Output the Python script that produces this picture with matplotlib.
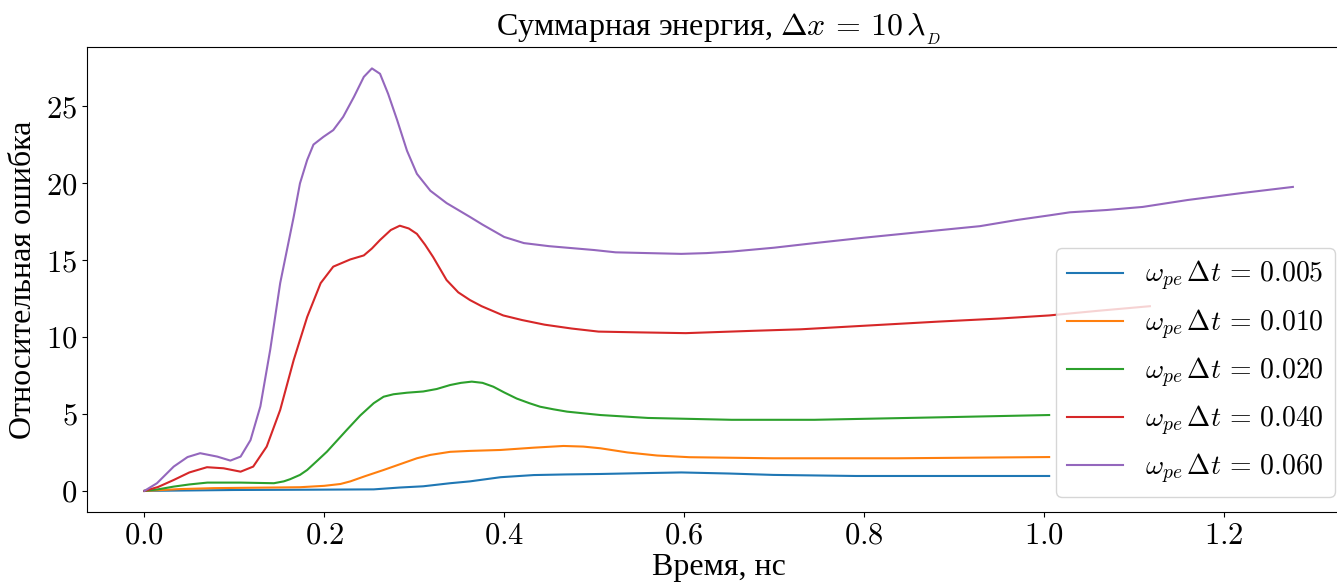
import matplotlib
matplotlib.use("Agg")
import matplotlib.pyplot as plt
from matplotlib.ticker import FuncFormatter

plt.rcParams['mathtext.fontset'] = 'cm'
plt.rcParams['font.family'] = ['Liberation Serif', 'DejaVu Serif']

labels = ["0.005", "0.010", "0.020", "0.040", "0.060"]

t_005 = [0, 0.1, 0.188, 0.255, 0.284, 0.31, 0.34, 0.362, 0.396, 0.433, 0.468, 0.507, 0.55, 0.597, 0.65, 0.699, 0.791, 1.006]
v_005 = [0, 0.06, 0.08, 0.1, 0.22, 0.3, 0.5, 0.62, 0.89, 1.03, 1.07, 1.1, 1.15, 1.2, 1.13, 1.04, 0.97, 0.97]

t_010 = [0, 0.04, 0.077, 0.173, 0.2, 0.218, 0.229, 0.245, 0.266, 0.285, 0.303, 0.318, 0.34, 0.362, 0.396, 0.433, 0.466, 0.488, 0.507, 0.537, 0.57, 0.606, 0.699, 0.837, 1.006]
v_010 = [0, 0.12, 0.18, 0.24, 0.33, 0.45, 0.62, 0.95, 1.36, 1.75, 2.12, 2.34, 2.54, 2.6, 2.66, 2.81, 2.92, 2.88, 2.77, 2.5, 2.3, 2.19, 2.12, 2.12, 2.2]

t_020 = [0, 0.015, 0.0326, 0.05, 0.07, 0.107, 0.144, 0.155, 0.162, 0.173, 0.181, 0.192, 0.203, 0.21, 0.225, 0.24, 0.255, 0.266, 0.277, 0.292, 0.31, 0.325, 0.34, 0.352, 0.364, 0.376, 0.388, 0.40, 0.414, 0.428, 0.44, 0.455, 0.47, 0.507, 0.56, 0.653, 0.745, 0.883, 1.006]
v_020 = [0, 0.1, 0.28, 0.42, 0.54, 0.54, 0.5, 0.62, 0.76, 1.04, 1.36, 1.95, 2.55, 3.0, 3.96, 4.9, 5.7, 6.12, 6.28, 6.38, 6.46, 6.62, 6.88, 7.02, 7.1, 7.02, 6.77, 6.4, 6.0, 5.7, 5.47, 5.3, 5.15, 4.93, 4.74, 4.62, 4.62, 4.78, 4.93]

t_040 = [0, 0.015, 0.0326, 0.05, 0.0696, 0.088, 0.107, 0.121, 0.136, 0.151, 0.166, 0.181, 0.196, 0.21, 0.229, 0.244, 0.253, 0.262, 0.274, 0.284, 0.294, 0.303, 0.312, 0.321, 0.336, 0.349, 0.362, 0.375, 0.399, 0.42, 0.445, 0.475, 0.505, 0.55, 0.602, 0.676, 0.73, 0.791, 0.883, 0.951, 1.006, 1.06, 1.118]
v_040 = [0, 0.25, 0.71, 1.2, 1.54, 1.47, 1.25, 1.58, 2.88, 5.26, 8.5, 11.3, 13.5, 14.57, 15.04, 15.3, 15.75, 16.3, 16.95, 17.23, 17.05, 16.7, 16.0, 15.2, 13.7, 12.9, 12.4, 12.0, 11.4, 11.1, 10.8, 10.55, 10.35, 10.3, 10.25, 10.4, 10.5, 10.7, 11.0, 11.2, 11.4, 11.7, 12.0]

t_060 = [0, 0.014, 0.0326, 0.048, 0.062, 0.081, 0.0956, 0.107, 0.118, 0.129, 0.14, 0.151, 0.1585, 0.166, 0.173, 0.181, 0.188, 0.199, 0.21, 0.221, 0.233, 0.244, 0.253, 0.262, 0.271, 0.281, 0.292, 0.303, 0.318, 0.336, 0.362, 0.376, 0.40, 0.422, 0.45, 0.47, 0.50, 0.524, 0.56, 0.597, 0.625, 0.653, 0.70, 0.745, 0.80, 0.86, 0.929, 0.97, 1.006, 1.029, 1.07, 1.11, 1.16, 1.22, 1.277]
v_060 = [0, 0.5, 1.58, 2.2, 2.45, 2.23, 1.97, 2.23, 3.3, 5.5, 9.2, 13.5, 15.65, 17.8, 19.98, 21.5, 22.5, 23.0, 23.44, 24.3, 25.6, 26.9, 27.45, 27.1, 25.8, 24.1, 22.1, 20.6, 19.5, 18.7, 17.8, 17.3, 16.5, 16.1, 15.9, 15.8, 15.65, 15.5, 15.45, 15.4, 15.45, 15.55, 15.8, 16.1, 16.45, 16.8, 17.2, 17.6, 17.9, 18.1, 18.25, 18.45, 18.9, 19.35, 19.75]

series = [(t_005, v_005), (t_010, v_010), (t_020, v_020), (t_040, v_040), (t_060, v_060)]

W, H = 1337, 585
fig = plt.figure(figsize=(W / 100, H / 100), dpi=100)
ax = fig.add_axes([87 / W, (H - 512) / H, (1350 - 87) / W, (512 - 47) / H])

for (t, v), lab in zip(series, labels):
    ax.plot(t, v, lw=1.5, label=r"$\omega_{pe}\,\Delta t\, =\, %s$" % lab)

ax.set_xlim(-0.0638, 1.3405)
ax.set_ylim(-1.37, 28.84)
ax.set_xticks([0.0, 0.2, 0.4, 0.6, 0.8, 1.0, 1.2])
ax.set_yticks([0, 5, 10, 15, 20, 25])
ax.xaxis.set_major_formatter(FuncFormatter(lambda x, p: r"$%.1f$" % x))
ax.yaxis.set_major_formatter(FuncFormatter(lambda x, p: r"$%d$" % x))
ax.tick_params(labelsize=22)

ax.set_title(r"Суммарная энергия, $\Delta x\, =\, 10\,\lambda_{_D}$", fontsize=23, pad=6)
ax.set_xlabel("Время, нс", fontsize=23, labelpad=2)
ax.set_ylabel("Относительная ошибка", fontsize=23, labelpad=6)

leg = ax.legend(fontsize=20, loc='lower right', bbox_to_anchor=(1335 / W, (H - 497) / H),
                bbox_transform=fig.transFigure, borderaxespad=0)

fig.savefig("out.png", dpi=100)
